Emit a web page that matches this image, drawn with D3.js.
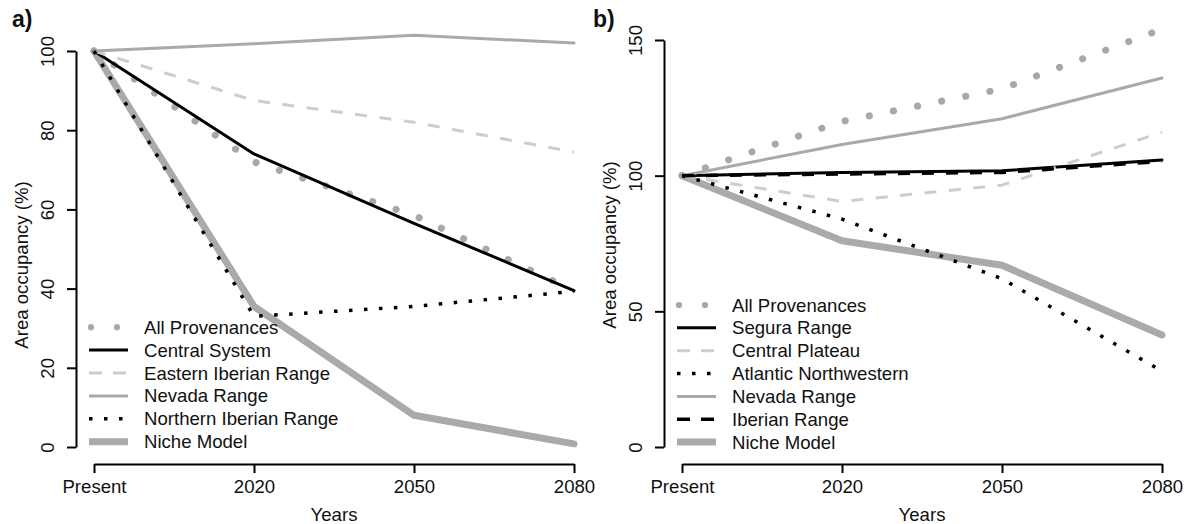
<!DOCTYPE html>
<html>
<head>
<meta charset="utf-8">
<script src="https://cdn.jsdelivr.net/npm/d3@7"></script>
<style>
  html, body { margin: 0; padding: 0; background: #fff; }
  svg text { font-family: "Liberation Sans", Arial, Helvetica, sans-serif; fill: #111; }
</style>
</head>
<body>
<svg id="chart" width="1191" height="524"></svg>
<script>
// ---------- data ----------
const years = ["Present", "2020", "2050", "2080"];

// Panel a
const aTicks = [0, 20, 40, 60, 80, 100];
const aAllProvenances = [100, 72, 58.5, 39.5];
const aCentralSystem = [100, 74, 56.5, 39.5];
const aEasternIberian = [100, 87.5, 82, 74.5];
const aNevada = [100, 101.8, 104, 102];
const aNorthernIberian = [100, 33, 35.5, 39.3];
const aNiche = [100, 35.5, 8, 0.8];

// Panel b
const bTicks = [0, 50, 100, 150];
const bAllProvenances = [100, 120, 132, 154];
const bSegura = [100, 101.2, 101.8, 105.8];
const bCentralPlateau = [100, 90.5, 96.5, 116];
const bAtlanticNW = [100, 84, 62, 28];
const bNevada = [100, 111.5, 121, 136];
const bIberian = [100, 100.6, 101.2, 105.3];
const bNiche = [100, 76, 67, 41.3];

// ---------- styles ----------
const ST = {
  allprov:  { stroke: "#a8a8a8", width: 7,   dash: "0.1 24.5", cap: "round" },
  black:    { stroke: "#000",    width: 3,   dash: null,       cap: "round" },
  lightdash:{ stroke: "#cdcdcd", width: 3,   dash: "12 12.5",  cap: "butt" },
  nevada:   { stroke: "#a9a9a9", width: 3,   dash: null,       cap: "round" },
  blackdot: { stroke: "#000",    width: 3.5, dash: "3.5 11.5", cap: "butt" },
  blackdash:{ stroke: "#000",    width: 3.5, dash: "12 12",    cap: "butt" },
  niche:    { stroke: "#aaaaaa", width: 7,   dash: null,       cap: "round" }
};

const svg = d3.select("#chart");
const FS = 18.6;

function panel(cfg) {
  const g = svg.append("g");
  const x = d3.scalePoint().domain(years).range([cfg.x0 + 18, cfg.x0 + 498]).padding(0);
  const y = d3.scaleLinear().domain(cfg.ydomain).range([447, cfg.ytop]);

  const line = d3.line().x((d, i) => x(years[i])).y(d => y(d));

  cfg.series.forEach(s => {
    const st = ST[s.style];
    g.append("path")
      .attr("d", line(s.values))
      .attr("fill", "none")
      .attr("stroke", st.stroke)
      .attr("stroke-width", st.width)
      .attr("stroke-dasharray", st.dash)
      .attr("stroke-linecap", st.cap)
      .attr("stroke-linejoin", "round");
  });

  // y axis
  const ya = g.append("g")
    .attr("transform", `translate(${cfg.x0},0)`)
    .call(d3.axisLeft(y).tickValues(cfg.ticks).tickSize(9).tickSizeOuter(0).tickFormat(d3.format("d")));
  ya.select(".domain").attr("stroke", "#000").attr("stroke-width", 2);
  ya.selectAll(".tick line").attr("stroke", "#000").attr("stroke-width", 2);
  ya.selectAll(".tick text")
    .attr("x", null).attr("dy", null).attr("y", null)
    .attr("text-anchor", "middle")
    .attr("transform", "translate(-22,0) rotate(-90)")
    .style("font-size", FS + "px")
    .style("font-family", "Liberation Sans, Arial, sans-serif")
    .attr("fill", "#111");

  // x axis
  const xa = g.append("g")
    .attr("transform", `translate(0,464)`)
    .call(d3.axisBottom(x).tickSize(9).tickSizeOuter(0));
  xa.select(".domain").attr("stroke", "#000").attr("stroke-width", 2);
  xa.selectAll(".tick line").attr("stroke", "#000").attr("stroke-width", 2);
  xa.selectAll(".tick text")
    .attr("y", 29).attr("dy", null)
    .style("font-size", FS + "px")
    .style("font-family", "Liberation Sans, Arial, sans-serif")
    .attr("fill", "#111");

  // axis titles
  g.append("text")
    .attr("transform", `translate(${cfg.x0 - 48.5},${cfg.ytitle}) rotate(-90)`)
    .attr("text-anchor", "middle")
    .style("font-size", FS + "px")
    .text("Area occupancy (%)");
  g.append("text")
    .attr("x", cfg.x0 + 258).attr("y", 521)
    .attr("text-anchor", "middle")
    .style("font-size", FS + "px")
    .text("Years");

  // panel label
  g.append("text")
    .attr("x", cfg.labelX).attr("y", 27)
    .style("font-size", "23px").style("font-weight", "bold")
    .text(cfg.label);

  // legend
  cfg.legend.forEach((it, i) => {
    const cy = cfg.legY + i * cfg.legStep;
    const st = ST[it.style];
    const lx0 = cfg.x0 + 13, lx1 = cfg.x0 + 52;
    if (it.style === "allprov") {
      [lx0 + 2, lx0 + 28].forEach(cx => {
        g.append("circle").attr("cx", cx).attr("cy", cy).attr("r", 3.1).attr("fill", st.stroke);
      });
    } else {
      g.append("line")
        .attr("x1", lx0).attr("x2", lx1).attr("y1", cy).attr("y2", cy)
        .attr("stroke", st.stroke).attr("stroke-width", st.width)
        .attr("stroke-dasharray", it.style === "blackdot" ? "3.5 11.5" : (it.style === "lightdash" || it.style === "blackdash" ? "13 11" : null))
        .attr("stroke-linecap", "butt");
    }
    g.append("text")
      .attr("x", cfg.x0 + 68).attr("y", cy + 6.5)
      .style("font-size", FS + "px")
      .text(it.name);
  });
}

panel({
  x0: 76, ydomain: [0, 100], ytop: 51, ticks: aTicks, ytitle: 265, label: "a)", labelX: 12,
  series: [
    { values: aNiche, style: "niche" },
    { values: aAllProvenances, style: "allprov" },
    { values: aCentralSystem, style: "black" },
    { values: aEasternIberian, style: "lightdash" },
    { values: aNevada, style: "nevada" },
    { values: aNorthernIberian, style: "blackdot" }
  ],
  legY: 327.2, legStep: 22.9,
  legend: [
    { name: "All Provenances", style: "allprov" },
    { name: "Central System", style: "black" },
    { name: "Eastern Iberian Range", style: "lightdash" },
    { name: "Nevada Range", style: "nevada" },
    { name: "Northern Iberian Range", style: "blackdot" },
    { name: "Niche Model", style: "niche" }
  ]
});

panel({
  x0: 664, ydomain: [0, 150], ytop: 40, ticks: bTicks, ytitle: 245, label: "b)", labelX: 593,
  series: [
    { values: bNiche, style: "niche" },
    { values: bAllProvenances, style: "allprov" },
    { values: bSegura, style: "black" },
    { values: bCentralPlateau, style: "lightdash" },
    { values: bAtlanticNW, style: "blackdot" },
    { values: bNevada, style: "nevada" },
    { values: bIberian, style: "blackdash" }
  ],
  legY: 305, legStep: 22.85,
  legend: [
    { name: "All Provenances", style: "allprov" },
    { name: "Segura Range", style: "black" },
    { name: "Central Plateau", style: "lightdash" },
    { name: "Atlantic Northwestern", style: "blackdot" },
    { name: "Nevada Range", style: "nevada" },
    { name: "Iberian Range", style: "blackdash" },
    { name: "Niche Model", style: "niche" }
  ]
});
</script>
</body>
</html>
